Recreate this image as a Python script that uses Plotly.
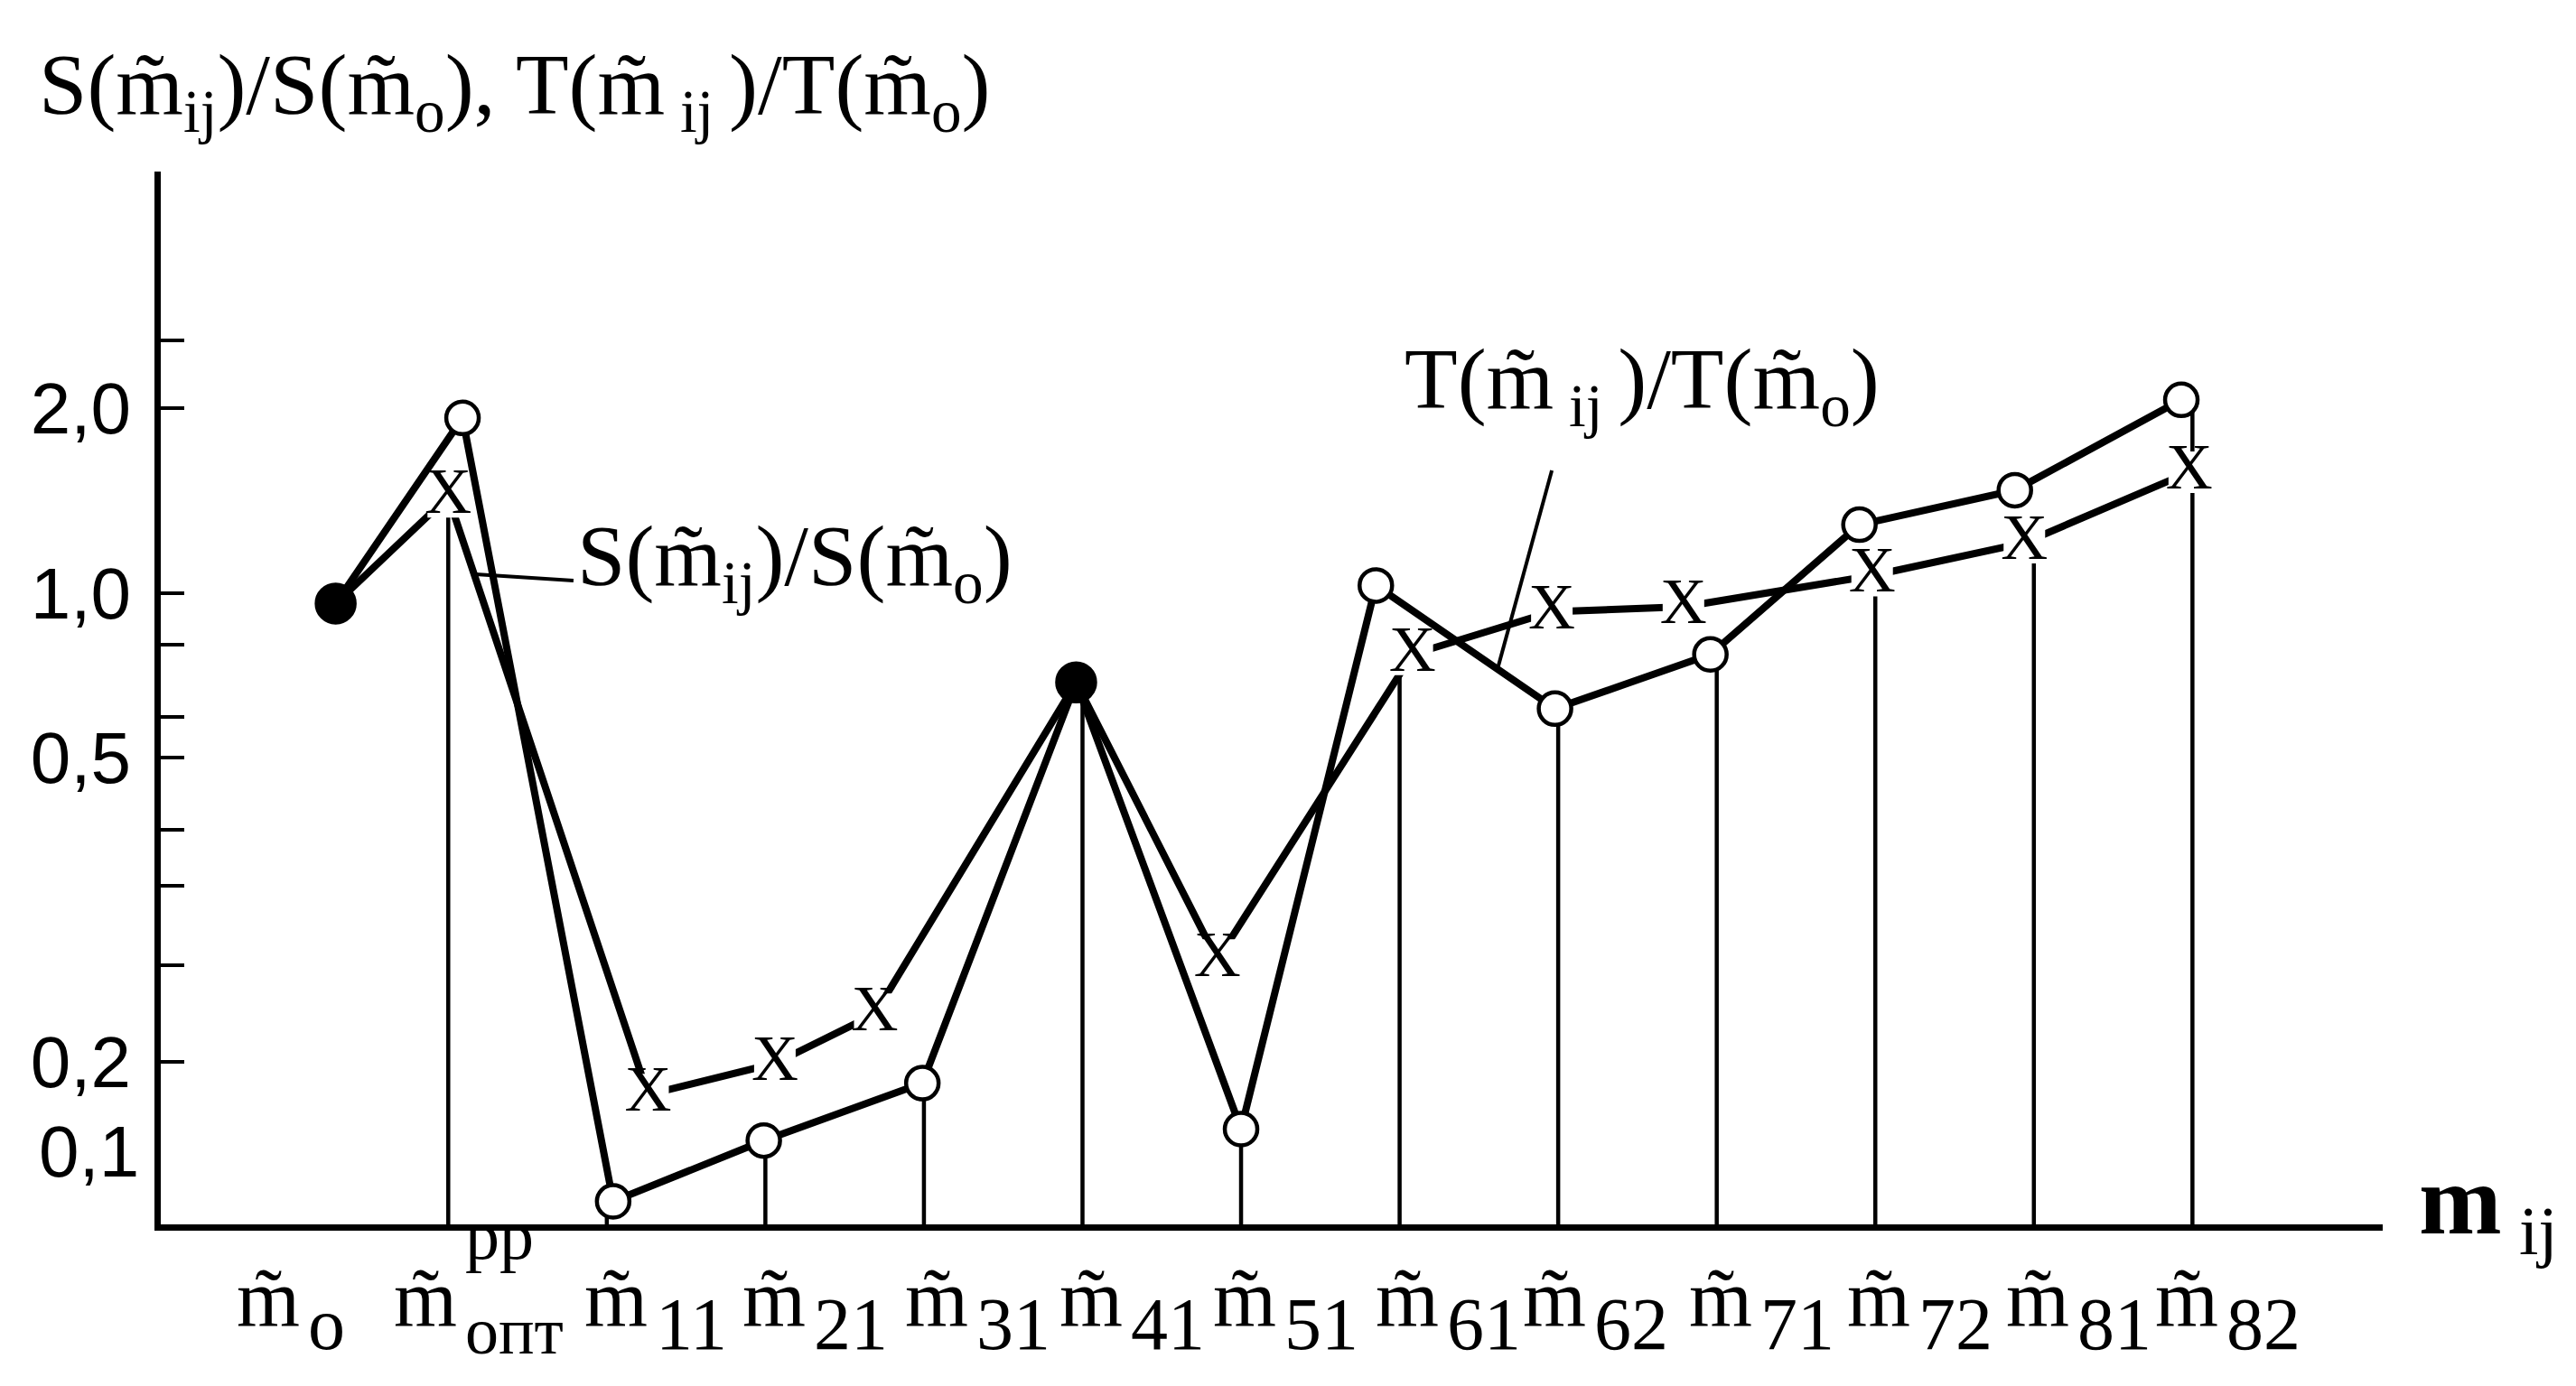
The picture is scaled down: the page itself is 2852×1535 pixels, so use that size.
import plotly.graph_objects as go

# ---------------- data ----------------
# category labels along the horizontal axis: m~ with subscript / superscript
CAT_SUB = ["o", "опт", "11", "21", "31", "41", "51", "61", "62", "71", "72", "81", "82"]
CAT_SUP = ["", "рр", "", "", "", "", "", "", "", "", "", "", ""]

# vertical axis: the drawn (non-uniform) scale, in chart-height units
TICK_POS = [5.38, 4.97, 3.845, 3.53, 3.09, 2.84, 2.40, 2.06, 1.58, 0.99]
TICK_TEXT = ["", "2,0", "1,0", "", "", "0,5", "", "", "", "0,2"]
EXTRA_LABEL_POS = 0.44          # "0,1" is written without a tick mark
EXTRA_LABEL_TEXT = "0,1"

# T(m_ij)/T(m_o)  -> open circles
T_X = [0.29, 1.09, 2.04, 2.99, 3.99, 4.96, 6.00, 6.85, 7.98, 8.96, 9.90, 10.88, 11.93]
T_LEVEL = [3.78, 4.91, 0.14, 0.51, 0.86, 3.30, 0.58, 3.89, 3.14, 3.47, 4.26, 4.47, 5.02]
T_MARK = ["dot", "o", "o", "o", "o", "dot", "o", "o", "o", "o", "o", "o", "o"]

# S(m_ij)/S(m_o)  -> "X" marks
S_X = [0.29, 1.00, 2.26, 3.06, 3.69, 4.96, 5.85, 7.08, 7.96, 8.79, 9.98, 10.94, 11.98]
S_LEVEL = [3.78, 4.43, 0.79, 0.98, 1.28, 3.30, 1.61, 3.47, 3.73, 3.76, 3.95, 4.15, 4.58]
S_MARK = ["dot", "x", "x", "x", "x", "dot", "x", "x", "x", "x", "x", "x", "x"]

# vertical drop lines from the axis, one per category (category index, height)
STEM_CAT = [1, 2, 3, 4, 5, 6, 7, 8, 9, 10, 11, 12]
STEM_TOP = [4.43, 0.14, 0.51, 0.86, 3.30, 0.58, 3.41, 3.14, 3.47, 3.95, 4.15, 5.02]

# small hand-placement nudges of the category labels (pixels)
LABEL_NUDGE = [-24, -25, 10, 10, 14, 10, 4, 8, -4, 4, 4, 4, -6]

SERIF = "Liberation Serif, Times New Roman, serif"
SANS = "Liberation Sans, Arial, sans-serif"
TILDE_M = "m\u0303"

fig = go.Figure()

# drop lines
sx, sy = [], []
for c, top in zip(STEM_CAT, STEM_TOP):
    sx += [c, c, None]
    sy += [0, top, None]
fig.add_trace(go.Scatter(x=sx, y=sy, mode="lines", line=dict(color="black", width=4.5),
                         hoverinfo="skip", showlegend=False))

# series lines
fig.add_trace(go.Scatter(x=T_X, y=T_LEVEL, mode="lines", line=dict(color="black", width=8),
                         name="T", showlegend=False))
fig.add_trace(go.Scatter(x=S_X, y=S_LEVEL, mode="lines", line=dict(color="black", width=8),
                         name="S", showlegend=False))

# S markers: typed "X" glyph on a white patch
sxm = [x for x, m in zip(S_X, S_MARK) if m == "x"]
sym = [y for y, m in zip(S_LEVEL, S_MARK) if m == "x"]
fig.add_trace(go.Scatter(x=sxm, y=sym, mode="markers+text", text=["X"] * len(sxm),
                         textposition="middle center",
                         textfont=dict(family=SERIF, size=72, color="black"),
                         marker=dict(symbol="square", size=46, color="white", opacity=1,
                                     line=dict(width=0)),
                         showlegend=False))

# T markers: open circles, filled dots where both series coincide
t_color = ["#000000" if m == "dot" else "#ffffff" for m in T_MARK]
t_size = [42 if m == "dot" else 36 for m in T_MARK]
fig.add_trace(go.Scatter(x=T_X, y=T_LEVEL, mode="markers",
                         marker=dict(symbol="circle", size=t_size, color=t_color, opacity=1,
                                     line=dict(color="#000000", width=4.5)),
                         showlegend=False))

annotations = []
# category labels
for i, (sub, sup, dx) in enumerate(zip(CAT_SUB, CAT_SUP, LABEL_NUDGE)):
    annotations.append(dict(x=i, y=0, xref="x", yref="paper", text=TILDE_M, showarrow=False,
                            xanchor="center", yanchor="middle", xshift=dx, yshift=-82,
                            font=dict(family=SERIF, size=90, color="black")))
    annotations.append(dict(x=i, y=0, xref="x", yref="paper", text=sub, showarrow=False,
                            xanchor="left", yanchor="middle", xshift=dx + 42,
                            yshift=-110 if len(sub) < 3 else -118,
                            font=dict(family=SERIF, size=82 if len(sub) < 3 else 74,
                                      color="black")))
    if sup:
        annotations.append(dict(x=i, y=0, xref="x", yref="paper", text=sup, showarrow=False,
                                xanchor="left", yanchor="middle", xshift=dx + 42, yshift=-12,
                                font=dict(family=SERIF, size=76, color="black")))

# "0,1" written without a tick
annotations.append(dict(x=0, y=EXTRA_LABEL_POS, xref="paper", yref="y", text=EXTRA_LABEL_TEXT,
                        showarrow=False, xanchor="right", yanchor="middle", xshift=-22,
                        font=dict(family=SANS, size=80, color="black")))

# axis titles
annotations.append(dict(x=-0.0555, y=1.077, xref="paper", yref="paper",
                        text="S(" + TILDE_M + "<sub>ij</sub>)/S(" + TILDE_M + "<sub>o</sub>), T("
                             + TILDE_M + "<sub> ij </sub>)/T(" + TILDE_M + "<sub>o</sub>)",
                        showarrow=False, xanchor="left", yanchor="middle",
                        font=dict(family=SERIF, size=96, color="black")))
annotations.append(dict(x=1.0155, y=0.016, xref="paper", yref="paper",
                        text="<b>m</b><sub> ij</sub>", showarrow=False,
                        xanchor="left", yanchor="middle",
                        font=dict(family=SERIF, size=110, color="black")))

# series labels
annotations.append(dict(x=1.80, y=4.03, xref="x", yref="y",
                        text="S(" + TILDE_M + "<sub>ij</sub>)/S(" + TILDE_M + "<sub>o</sub>)",
                        showarrow=False, xanchor="left", yanchor="middle",
                        font=dict(family=SERIF, size=96, color="black")))
annotations.append(dict(x=7.02, y=5.11, xref="x", yref="y",
                        text="T(" + TILDE_M + "<sub> ij </sub>)/T(" + TILDE_M + "<sub>o</sub>)",
                        showarrow=False, xanchor="left", yanchor="middle",
                        font=dict(family=SERIF, size=96, color="black")))

shapes = [
    # leader lines from the series labels
    dict(type="line", xref="x", yref="y", x0=1.15, y0=3.96, x1=1.79, y1=3.92,
         line=dict(color="black", width=4)),
    dict(type="line", xref="x", yref="y", x0=7.96, y0=4.59, x1=7.62, y1=3.39,
         line=dict(color="black", width=4)),
]

fig.update_layout(
    width=2852, height=1535,
    margin=dict(l=170, r=222, t=182, b=187),
    paper_bgcolor="white", plot_bgcolor="white",
    showlegend=False,
    annotations=annotations,
    shapes=shapes,
    xaxis=dict(range=[-0.813, 13.2], showline=True, linecolor="black", linewidth=7,
               showgrid=False, zeroline=False, showticklabels=False, ticks=""),
    yaxis=dict(range=[0, 6.41], showline=True, linecolor="black", linewidth=7,
               showgrid=False, zeroline=False, tickmode="array",
               tickvals=TICK_POS, ticktext=TICK_TEXT, ticks="inside", ticklen=26,
               tickwidth=4, tickcolor="black", ticklabelstandoff=10,
               tickfont=dict(family=SANS, size=80, color="black")),
)

fig.write_html("out.html")
